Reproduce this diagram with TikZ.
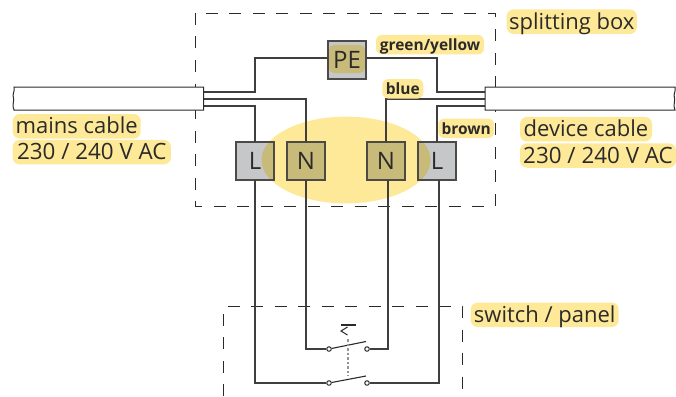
\documentclass[tikz,border=0pt]{standalone}
\usepackage{fontspec}
\setmainfont{Open Sans}
\definecolor{hl}{HTML}{FEE998}
\definecolor{tan}{HTML}{C8BA78}
\definecolor{grayb}{HTML}{C6C7C9}
\definecolor{ink}{HTML}{2B2A29}
\begin{document}
\begin{tikzpicture}[x=1pt,y=-1pt,
  wire/.style={draw=ink!90,line width=1.4pt},
  dashbox/.style={draw=ink,line width=0.8pt,dash pattern=on 12pt off 11.5pt},
  term/.style={draw=ink!85!white,line width=1.1pt,minimum width=38pt,minimum height=38pt,inner sep=0pt,font=\fontsize{24}{24}\selectfont,text=ink},
  lab/.style={fill=hl,rounded corners=7pt,text=ink,inner sep=0pt,minimum height=24.5pt,text height=15pt,text depth=0pt,font=\fontsize{22}{24}\selectfont},
  lab2/.style={lab,font=\fontsize{22.4}{24}\selectfont},
  blab/.style={fill=hl,rounded corners=6pt,text=ink,inner sep=0pt,minimum height=19.5pt,text height=11.8pt,text depth=0pt,font=\fontsize{15.5}{16}\selectfont\bfseries},
  contact/.style={circle,draw=ink,fill=white,line width=1pt,minimum size=4.5pt,inner sep=0pt},
  cable/.style={draw=ink,line width=1pt,fill=white}]
\useasboundingbox (0,0) rectangle (676,396);
% ellipse
\fill[hl] (346,160) ellipse (84.5 and 43.4);
% terminals fill
\fill[grayb] (236,142) rectangle (274,180);
\fill[grayb] (418,142) rectangle (456,180);
\fill[grayb] (328,41) rectangle (366,79);
\begin{scope}
\clip (346,160) ellipse (84.5 and 43.4);
\fill[tan] (236,142) rectangle (274,180);
\fill[tan] (418,142) rectangle (456,180);
\end{scope}
\fill[tan] (287,142) rectangle (325,180);
\fill[tan] (367,142) rectangle (405,180);
\fill[tan,rounded corners=5pt] (329,45) rectangle (365,73);
% nodes
\node[term] (L1) at (255,161) {L};
\node[term] (N1) at (306,161) {N};
\node[term] (N2) at (386,161) {N};
\node[term] (L2) at (437,161) {L};
\node[term] (PE) at (347,60) {PE};
% dashed
\draw[dashbox] (195,13) rectangle (495,206);
\draw[dashbox] (223.5,396) -- (223.5,306) -- (462.5,306) -- (462.5,396);
% contacts
\node[contact] (c1) at (329,349) {};
\node[contact] (c2) at (367,349) {};
\node[contact] (c3) at (329,383) {};
\node[contact] (c4) at (367,383) {};
\coordinate (t1) at (366,341.5);
\coordinate (t2) at (366,376);
% cables
\coordinate (a1) at (203.5,92); \coordinate (a2) at (203.5,99); \coordinate (a3) at (203.5,106);
\coordinate (b1) at (485,92); \coordinate (b2) at (485,99); \coordinate (b3) at (485,106);
\coordinate (pw) at (328,58); \coordinate (pe) at (366,58);
\draw[wire] (a1) -| (255,58) -- (pw);
\draw[wire] (a2) -| (306,142);
\draw[wire] (a3) -| (255,142);
\draw[wire] (pe) -| (437,92) -- (b1);
\draw[wire] (b2) -| (386,142);
\draw[wire] (b3) -| (437,142);
\draw[wire] (255,180) |- (c3);
\draw[wire] (306,180) |- (c1);
\draw[wire] (388,180) |- (c2);
\draw[wire] (439,180) |- (c4);
\draw[ink,line width=1.1pt] (c1) -- (t1);
\draw[ink,line width=1.1pt] (c3) -- (t2);
\draw[ink!50,line width=1.4pt,dash pattern=on 2.5pt off 2pt] (348,339) -- (348,376);
\draw[ink,line width=1pt] (347.5,327) -- (341,331) -- (347.5,335);
\draw[ink,line width=2.2pt] (341,325) -- (356,325);
\draw[cable] (203.5,87) -- (14,87) .. controls (15,92) and (12,94) .. (13.5,98) .. controls (14,102) and (12,106) .. (14,110) -- (203.5,110) -- cycle;
\draw[cable] (485,87) -- (675,87) .. controls (676,92) and (673,94) .. (674.5,98) .. controls (675,102) and (673,106) .. (675,110) -- (485,110) -- cycle;
% labels
\node[lab,minimum width=128pt] (m1) at (76.7,126.3) {mains cable};
\node[lab2,minimum width=158.3pt] (m2) at (91.8,152.2) {230 / 240 V AC};
\node[lab,minimum width=132pt] (d1) at (586,129.2) {device cable};
\node[lab2,minimum width=156pt] (d2) at (598,155.5) {230 / 240 V AC};
\node[lab,minimum width=130.3pt] (sb) at (571.8,21.7) {splitting box};
\node[lab,minimum width=148pt] (sp) at (544.7,314.8) {switch / panel};
\node[blab,minimum width=108pt] (gy) at (430,44.7) {green/yellow};
\node[blab,minimum width=41pt] (bl) at (402.8,88.8) {blue};
\node[blab,minimum width=55.7pt] (br) at (466.2,128.3) {brown};
\end{tikzpicture}
\end{document}
